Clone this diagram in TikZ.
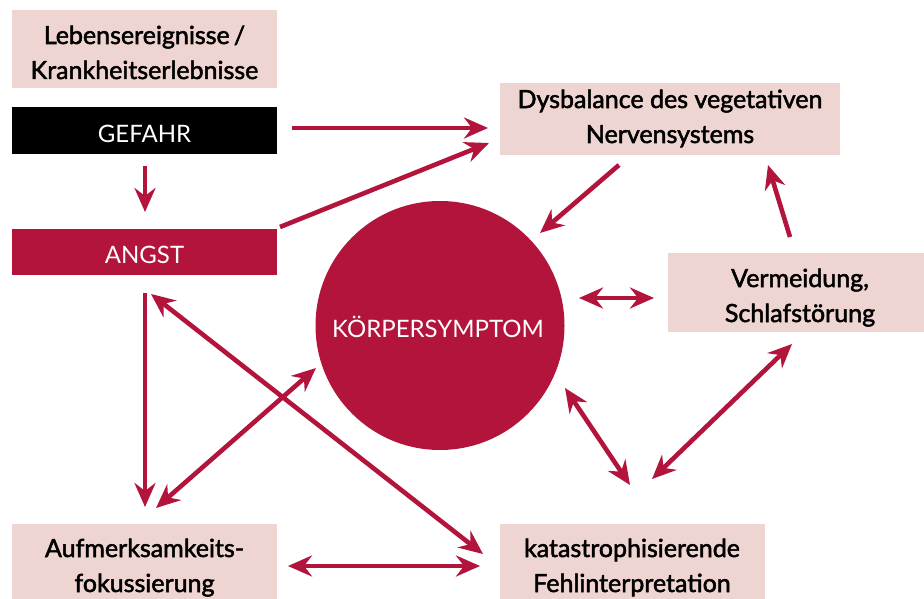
\documentclass[tikz,border=0pt]{standalone}
\usepackage{fontspec}
\setmainfont{Lato}
\newfontfamily\medfont[FakeBold=2]{Lato}
\usetikzlibrary{arrows.meta}
\definecolor{crim}{HTML}{B3143C}
\definecolor{rose}{HTML}{EFD5D1}
\begin{document}
\begin{tikzpicture}[x=1pt,y=-1pt,
  box/.style={fill=rose, inner sep=0pt},
  btxt/.style={inner sep=0pt, anchor=base, align=center, text=black,
    font=\fontsize{25}{35}\selectfont\medfont},
  wtxt/.style={inner sep=0pt, anchor=base, text=white,
    font=\fontsize{24}{35}\selectfont},
  tipS/.tip={Stealth[length=24pt,width=21pt,inset=8pt]},
  arr/.style={draw=crim, line width=4.6pt, -tipS},
  darr/.style={draw=crim, line width=4.6pt, tipS-tipS}]
\useasboundingbox (0,0) rectangle (924,599);
\fill[white] (0,0) rectangle (924,599);

\node[box, minimum width=265pt, minimum height=78pt] (leb) at (144.5,49) {};
\node[fill=black, inner sep=0pt, minimum width=265pt, minimum height=47pt] (gef) at (144.5,130.5) {};
\node[fill=crim, inner sep=0pt, minimum width=265pt, minimum height=46pt] (angst) at (144.5,252) {};
\node[box, minimum width=340pt, minimum height=72pt] (dys) at (670,119) {};
\node[box, minimum width=256pt, minimum height=79pt] (verm) at (796,292.5) {};
\node[box, minimum width=265pt, minimum height=84pt] (auf) at (144.5,566) {};
\node[box, minimum width=265pt, minimum height=84pt] (kat) at (632.5,566) {};
\node[circle, fill=crim, minimum size=249pt, inner sep=0pt] (ks) at (440,325.5) {};

\node[btxt] (lebT) at (144.5,79) {Lebensereignisse\,/\\Krankheitserlebnisse};
\node[wtxt] (gefT) at (144.5,143) {GEFAHR};
\node[wtxt] (angstT) at (144.5,263) {ANGST};
\node[btxt] (dysT) at (670,143) {Dysbalance des vegetativen\\Nervensystems};
\node[btxt] (vermT) at (800,322) {Vermeidung,\\Schlafstörung};
\node[btxt] (aufT) at (144.5,592) {Aufmerksamkeits-\\fokussierung};
\node[btxt] (katT) at (632,592) {katastrophisierende\\Fehlinterpretation};
\node[wtxt] (ksT) at (438,337) {KÖRPERSYMPTOM};

% connector end points
\coordinate (g1) at (292,128);   \coordinate (d1) at (488,128);
\coordinate (a1) at (280,227);   \coordinate (d2) at (489,143);
\coordinate (g2) at (145,166);   \coordinate (a2) at (145,212);
\coordinate (d3) at (619,165);   \coordinate (k1) at (540,233);
\coordinate (v1) at (790,237);   \coordinate (d4) at (768,165);
\coordinate (k2) at (579,298);   \coordinate (v2) at (654,298);
\coordinate (a3) at (145,293);   \coordinate (f1) at (145,507);
\coordinate (a4) at (151,294);   \coordinate (t1) at (483,554);
\coordinate (f2) at (156,508);   \coordinate (k3) at (316,368);
\coordinate (f3) at (288,566);   \coordinate (t2) at (480,566);
\coordinate (k4) at (565,388);   \coordinate (t3) at (630,485);
\coordinate (v3) at (792,344);   \coordinate (t4) at (652,479);

\draw[arr] (g1) -- (d1);
\draw[arr] (a1) -- (d2);
\draw[arr] (g2) -- (a2);
\draw[arr] (d3) -- (k1);
\draw[arr] (v1) -- (d4);
\draw[darr] (k2) -- (v2);
\draw[arr] (a3) -- (f1);
\draw[darr] (a4) -- (t1);
\draw[darr] (f2) -- (k3);
\draw[darr] (f3) -- (t2);
\draw[darr] (k4) -- (t3);
\draw[darr] (v3) -- (t4);
\end{tikzpicture}
\end{document}
